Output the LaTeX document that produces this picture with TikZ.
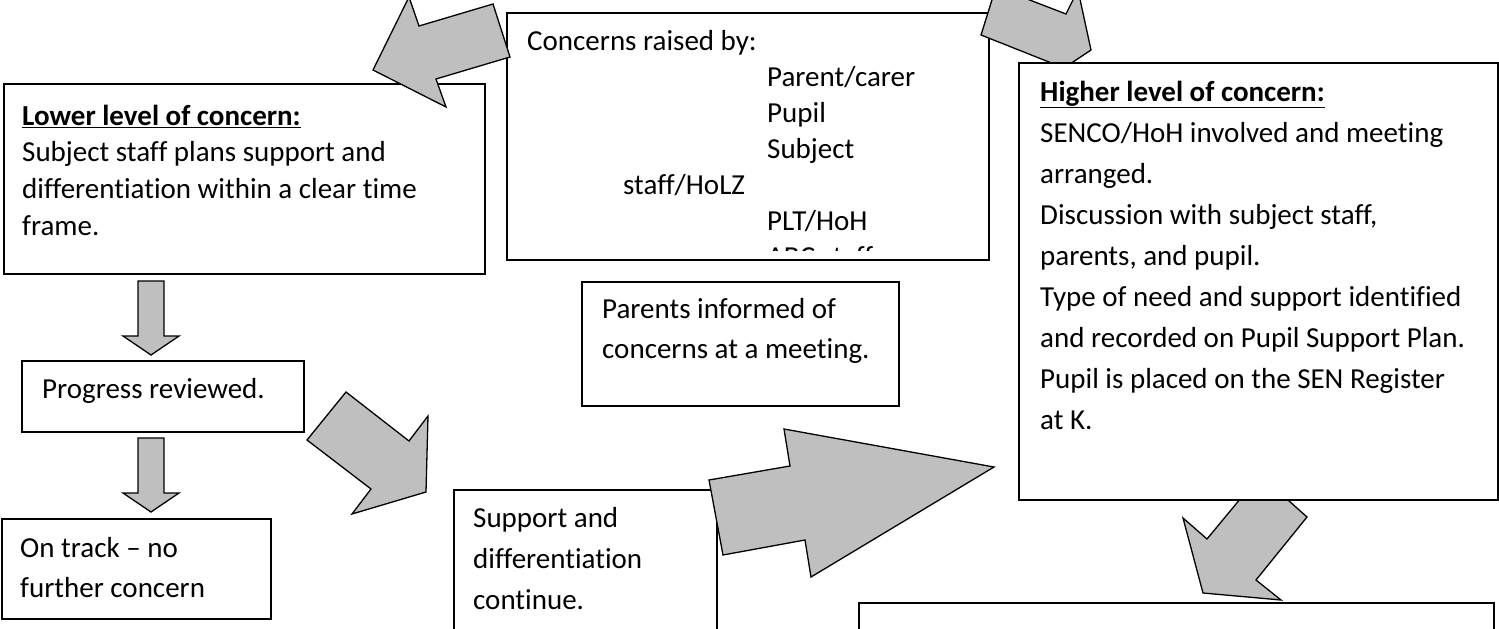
\documentclass[tikz,border=0pt]{standalone}
\usepackage{fontspec}
\setmainfont{Carlito}[Ligatures=NoCommon]
\usetikzlibrary{positioning}
\definecolor{arrowgray}{RGB}{191,191,191}
\newcommand{\topstrut}{\rule{0pt}{25pt}}
\tikzset{
  box/.style={draw, fill=white, line width=1.6pt, anchor=north west, inner sep=0pt},
  txt/.style={inner sep=0pt, align=left, anchor=north west},
  blockarrow/.style={draw, fill=arrowgray, line width=1.3pt, line join=miter},
}

\begin{document}
\begin{tikzpicture}[x=1pt, y=-1pt]
\useasboundingbox (0,0) rectangle (1499,629);
\clip (0,0) rectangle (1499,629);

% left column
\node[box, minimum width=481pt, minimum height=190pt] (lower) at (3,83) {};
\node[txt, font=\fontsize{29}{36.7}\selectfont, below right=17pt and 19pt of lower.north west] (lowertext)
  {\topstrut\underline{\textbf{Lower level of concern:}}\\
   Subject staff plans support and\\
   differentiation within a clear time\\
   frame.};
\node[box, minimum width=282pt, minimum height=71pt] (progress) at (21,360) {};
\node[txt, font=\fontsize{29}{36}\selectfont, below right=13pt and 21pt of progress.north west] (progresstext)
  {\topstrut Progress reviewed.};
\node[box, minimum width=269pt, minimum height=100pt] (ontrack) at (1,518) {};
\node[txt, font=\fontsize{29}{40}\selectfont, below right=14pt and 19pt of ontrack.north west] (ontracktext)
  {\topstrut On track – no\\
   further concern};

% middle column
\node[box, minimum width=482pt, minimum height=247pt] (concerns) at (506,12) {};
\begin{scope}
  \clip (506,12) rectangle (988,250);
  \node[txt, font=\fontsize{29}{36}\selectfont, below right=13pt and 21pt of concerns.north west] (concernstext)
    {\topstrut Concerns raised by:\\
     \hspace*{240pt}Parent/carer\\
     \hspace*{240pt}Pupil\\
     \hspace*{240pt}Subject\\
     \hspace*{96pt}staff/HoLZ\\
     \hspace*{240pt}PLT/HoH\\
     \hspace*{240pt}ABC staff};
\end{scope}
\node[box, minimum width=317pt, minimum height=124pt] (parents) at (581,281) {};
\node[txt, font=\fontsize{29}{40}\selectfont, below right=12pt and 21pt of parents.north west] (parentstext)
  {\topstrut Parents informed of\\
   concerns at a meeting.};
\node[box, minimum width=263pt, minimum height=171pt] (support) at (453,489) {};
\node[txt, font=\fontsize{29}{41}\selectfont, below right=13pt and 20pt of support.north west] (supporttext)
  {\topstrut Support and\\
   differentiation\\
   continue.};

% block arrows under the right-hand boxes
\draw[blockarrow] (373,70) -- (409,-3) -- (419,26) -- (493,4) -- (510,57) -- (436,79) -- (446,107) -- cycle;
\draw[blockarrow] (996,-13) -- (1066,14) -- (1078,-10) -- (1091,50) -- (1064,68) -- (981,35) -- cycle;
\draw[blockarrow] (1260,475) -- (1207,539) -- (1183,518) -- (1203,593) -- (1281,600) -- (1256,580) -- (1307,517) -- cycle;

% right column
\node[box, minimum width=479pt, minimum height=437pt] (higher) at (1018,62) {};
\node[txt, font=\fontsize{29}{41}\selectfont, below right=14pt and 22pt of higher.north west] (highertext)
  {\topstrut\underline{\textbf{Higher level of concern:}}\\
   SENCO/HoH involved and meeting\\
   arranged.\\
   Discussion with subject staff,\\
   parents, and pupil.\\
   Type of need and support identified\\
   and recorded on Pupil Support Plan.\\
   Pupil is placed on the SEN Register\\
   at K.};
\node[box, minimum width=635pt, minimum height=58pt] (next) at (858,602) {};

% remaining block arrows
\draw[blockarrow] (709,480) -- (790,466) -- (784,429) -- (994,467) -- (811,577) -- (805,540) -- (723,555) -- cycle;
\draw[blockarrow] (346,392) -- (409,441) -- (428,416) -- (426,492) -- (352,514) -- (371,489) -- (307,440) -- cycle;
\foreach \t in {281,438}
  \draw[blockarrow] (138,\t) -- (164,\t) -- (164,\t+55) -- (179,\t+55) -- (151,\t+74) -- (123,\t+55) -- (138,\t+55) -- cycle;
\end{tikzpicture}
\end{document}
